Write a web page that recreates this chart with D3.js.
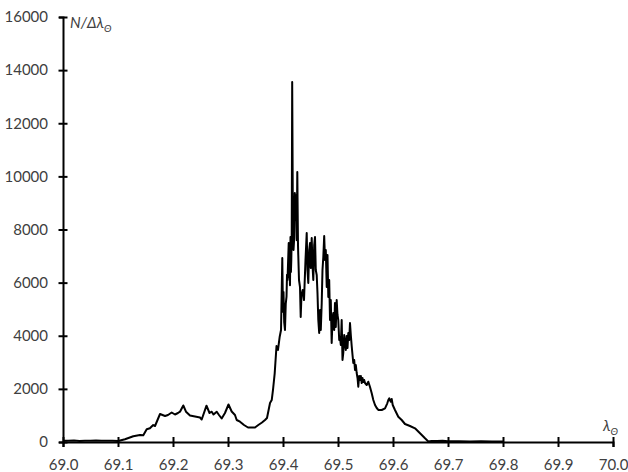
<!DOCTYPE html>
<html>
<head>
<meta charset="utf-8">
<script src="https://cdn.jsdelivr.net/npm/d3@7"></script>
<style>
  html, body { margin: 0; padding: 0; background: #fff; }
  svg { display: block; }
  .tick text { font-family: Lato, "Liberation Sans", sans-serif; font-size: 15px; fill: #404040; }
  .title { font-family: Lato, "Liberation Sans", sans-serif; font-style: italic; fill: #404040; }
</style>
</head>
<body>
<svg id="chart" width="628" height="472"></svg>
<script>
// Solar longitude (deg) and activity N/Δλ
const solarLongitude = [
  69.000, 69.010, 69.020, 69.030, 69.040, 69.050, 69.060, 69.070, 69.080, 69.090, 69.1005,
  69.1127, 69.1278, 69.140, 69.146, 69.1522, 69.158, 69.164, 69.1673, 69.1764, 69.1855,
  69.1909, 69.1976, 69.2036, 69.2091, 69.2127, 69.2187, 69.2236, 69.2309, 69.240, 69.2491,
  69.2522, 69.2609, 69.2664, 69.2704, 69.2736, 69.2795, 69.2836, 69.2885, 69.2945, 69.3009,
  69.3067, 69.3127, 69.3158, 69.3218, 69.3291, 69.3364, 69.3436, 69.3491, 69.3551, 69.3618,
  69.3673, 69.3709, 69.3764, 69.3795, 69.3818, 69.3849, 69.3882, 69.3909, 69.3940, 69.3964,
  69.3987, 69.4000, 69.4009, 69.4022, 69.4036, 69.4050, 69.4064, 69.4073, 69.4082, 69.4093,
  69.4104, 69.4111, 69.4118, 69.4127, 69.4136, 69.4144, 69.4151, 69.4159, 69.4167,
  69.4178, 69.4191, 69.4204, 69.4215, 69.4227, 69.4240, 69.4250, 69.4260, 69.4273, 69.4291, 69.4309,
  69.4322, 69.4336, 69.4358, 69.4382, 69.4409, 69.4431, 69.4445, 69.4460, 69.4476, 69.4491,
  69.4505, 69.4522, 69.4536, 69.4551, 69.4567, 69.4582, 69.4596, 69.4613, 69.4627, 69.4642,
  69.4658, 69.4673, 69.4687, 69.4704, 69.4718, 69.4733, 69.4749, 69.4764, 69.4778, 69.4795,
  69.4809, 69.4824, 69.4840, 69.4855, 69.4869, 69.4885, 69.4900, 69.4915, 69.4931, 69.4945,
  69.4960, 69.4976, 69.4991, 69.5005, 69.5022, 69.5036, 69.5051, 69.5067, 69.5082, 69.5096,
  69.5113, 69.5127, 69.5142, 69.5158, 69.5173, 69.5187, 69.5204, 69.5218, 69.5233, 69.5249,
  69.5264, 69.5278, 69.5295, 69.5309, 69.5324, 69.5340, 69.5355, 69.5369, 69.5385, 69.5400,
  69.5415, 69.5431, 69.5445, 69.5460, 69.5476, 69.5491, 69.5522, 69.5551, 69.5582, 69.5613,
  69.5642, 69.5673, 69.5704, 69.5733, 69.5795, 69.5855, 69.5896, 69.5915, 69.5933, 69.5958,
  69.5976, 69.5995, 69.6036, 69.6096, 69.6158, 69.6218, 69.6309, 69.6400, 69.6491, 69.6582,
  69.6642, 69.670, 69.680, 69.690, 69.700, 69.720, 69.740, 69.760, 69.780, 69.800
];
const activity = [
  50, 45, 55, 40, 50, 45, 55, 50, 45, 50, 38,
  102, 215, 264, 252, 478, 515, 640, 602, 1054, 979,
  1017, 1111, 1035, 1092, 1141, 1374, 1141, 998, 960, 922,
  847, 1367, 1092, 1141, 1035, 1141, 1017, 885, 1092, 1412,
  1148, 1017, 828, 764, 640, 546, 546, 546, 640, 734,
  828, 904, 1468, 1581, 1958, 2586, 3614, 3464, 3964, 4216,
  6927, 4900, 5647, 4500, 4216, 5200, 5470, 6300, 6099, 6800,
  7492, 6200, 6776, 5900, 7718, 6400, 6852, 7900, 13553,
  9111, 7228, 7680, 9374, 8358, 9299, 7600, 10165, 7379, 6099, 5835,
  4706, 5534, 5722, 5346, 6852, 7868, 6475, 5986, 7228, 7492,
  6551, 7680, 6664, 6099, 7416, 7718, 6475, 6287, 5609, 4593,
  4104, 4970, 4216, 5233, 6475, 6965, 7755, 6852, 7228, 5835,
  7040, 5459, 6099, 4593, 5346, 3727, 4593, 4857, 4216, 5233,
  4329, 5346, 4781, 4593, 3840, 3953, 3652, 4593, 3087, 3351,
  4028, 3727, 3464, 3991, 3539, 4104, 3840, 4480, 4028, 3614,
  3275, 2974, 3087, 2711, 2899, 2598, 2409, 2082, 2485, 2334,
  2485, 2221, 2409, 2259, 2334, 2221, 2146, 2270, 2071, 1833,
  1581, 1393, 1280, 1205, 1205, 1269, 1457, 1581, 1645, 1517,
  1619, 1393, 1205, 952, 828, 678, 602, 516, 328, 139,
  20, 40, 35, 45, 30, 25, 20, 25, 20, 15
];
const xTicks = [69.0, 69.1, 69.2, 69.3, 69.4, 69.5, 69.6, 69.7, 69.8, 69.9, 70.0];
const yTicks = [0, 2000, 4000, 6000, 8000, 10000, 12000, 14000, 16000];

const svg = d3.select("#chart");
const x = d3.scaleLinear().domain([69.0, 70.0]).range([63, 613]);
const y = d3.scaleLinear().domain([0, 16000]).range([442, 17]);

// profile curve
const points = solarLongitude.map((l, i) => [l, activity[i]]);
svg.append("path")
  .datum(points)
  .attr("fill", "none")
  .attr("stroke", "#000")
  .attr("stroke-width", 2)
  .attr("stroke-linejoin", "round")
  .attr("d", d3.line().x(d => x(d[0])).y(d => y(d[1])));

// x axis with ticks crossing the line
const gx = svg.append("g")
  .attr("transform", `translate(0,${y(0)})`)
  .call(d3.axisBottom(x).tickValues(xTicks).tickFormat(d3.format(".1f")).tickSizeOuter(0).tickSize(5).tickPadding(12));
gx.select(".domain").attr("stroke", "#000").attr("stroke-width", 2);
gx.selectAll(".tick line").attr("y1", -5).attr("y2", 5).attr("stroke", "#000").attr("stroke-width", 2);

// y axis
const gy = svg.append("g")
  .attr("transform", `translate(${x(69.0)},0)`)
  .call(d3.axisLeft(y).tickValues(yTicks).tickFormat(d3.format("d")).tickSizeOuter(0).tickSize(4).tickPadding(11));
gy.select(".domain").attr("stroke", "#000").attr("stroke-width", 2);
gy.selectAll(".tick line").attr("x1", -4.5).attr("x2", 4.5).attr("stroke", "#000").attr("stroke-width", 2);

// axis titles
const yt = svg.append("text").attr("class", "title").attr("x", 70).attr("y", 28).attr("font-size", 15);
yt.append("tspan").text("N/Δλ");
yt.append("tspan").attr("dy", 4).attr("font-size", 10).text("Θ");

const xt = svg.append("text").attr("class", "title").attr("x", 603).attr("y", 431).attr("font-size", 15);
xt.append("tspan").text("λ");
xt.append("tspan").attr("dy", 4).attr("font-size", 10).text("Θ");
</script>
</body>
</html>
